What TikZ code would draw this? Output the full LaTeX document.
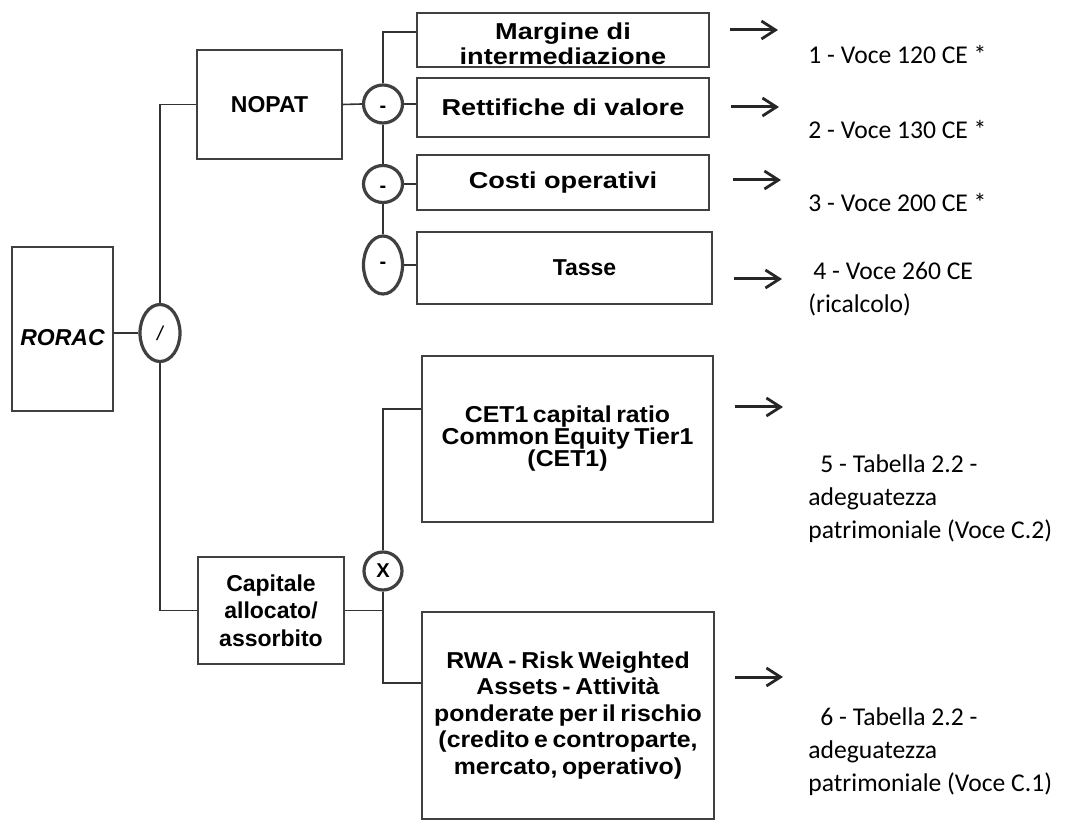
\documentclass[tikz,border=0pt]{standalone}
\usepackage{fontspec}
\setmainfont{Liberation Sans}
\newfontfamily\calib{Carlito}
\newfontfamily\widefont[FakeStretch=1.18]{Liberation Sans}
\newfontfamily\medfont[FakeStretch=1.08]{Liberation Sans}
\newcommand\tightwords{\spaceskip=0.2em plus 0.05em\relax}
\usetikzlibrary{shapes.geometric,arrows.meta}

\begin{document}
\begin{tikzpicture}[x=0.5pt,y=-0.5pt,
  box/.style={draw=black!75, line width=0.7pt, inner sep=1pt, align=center, font=\fontsize{11.5}{13.75}\selectfont\bfseries},
  wbox/.style={box, font=\fontsize{11.5}{12.5}\selectfont\widefont\bfseries},
  mbox/.style={box, font=\fontsize{11.5}{#1}\selectfont\medfont\bfseries\tightwords},
  oper/.style={ellipse, draw=black!75, line width=1.6pt, inner sep=0pt, font=\bfseries},
  wire/.style={draw=black!80, line width=0.8pt},
  ptr/.style={draw=black!85, line width=1.5pt, -{Straight Barb[length=7pt,width=9pt,line width=1.4pt]}},
  ref/.style={anchor=west, inner sep=0pt, align=left, font=\fontsize{12.8}{16.5}\selectfont\calib}]
\useasboundingbox (0,0) rectangle (1086,822);

\node[box, minimum width=50.5pt, minimum height=82pt, text height=17pt, text depth=0pt, font=\fontsize{11.5}{13}\selectfont\bfseries\itshape] (rorac) at (62.5,329) {RORAC};
\node[oper, minimum width=20pt, minimum height=28.5pt, font=\itshape] (div) at (160,333) {/};
\node[box, minimum width=72.5pt, minimum height=54.5pt] (nopat) at (269.5,104.5) {NOPAT};
\node[box, minimum width=73pt, minimum height=53.5pt] (cap) at (271,610.5) {Capitale\\allocato/\\assorbito};

% componenti del NOPAT
\node[oper, minimum width=19.5pt, minimum height=19pt, text height=8.6pt, text depth=0pt] (m1) at (383,104) {-};
\node[oper, minimum width=19.5pt, minimum height=18.5pt, text height=8.6pt, text depth=0pt] (m2) at (383,184) {-};
\node[oper, minimum width=19.5pt, minimum height=29pt] (m3) at (383,265) {-};
\node[box, minimum width=146pt, minimum height=27pt] (marg) at (563,40) {};
\node[wbox, draw=none, inner sep=0pt] (margtxt) at ([yshift=-2pt]marg.center) {Margine di\\intermediazione};
\node[wbox, minimum width=146pt, minimum height=29.5pt] (rett) at (563,107.5) {Rettifiche di valore};
\node[wbox, minimum width=146pt, minimum height=27.5pt] (costi) at (563,182.5) {Costi operativi};
\node[box, minimum width=147.5pt, minimum height=36pt] (tasse) at (564.5,268) {\hspace*{20pt}Tasse};

% capitale
\node[oper, minimum width=19pt, minimum height=19pt] (mul) at (383,571) {X};
\node[mbox=11, minimum width=145.5pt, minimum height=83pt] (cet) at (567.5,439) {CET1 capital ratio\\Common Equity Tier1\\(CET1)};
\node[mbox=13.25, minimum width=146pt, minimum height=103.5pt] (rwa) at (568,715.5) {RWA - Risk Weighted\\Assets - Attività\\ponderate per il rischio\\(credito e controparte,\\mercato, operativo)};

\draw[wire] (rorac.east |- div.west) -- (div.west);
\draw[wire] (div.north) |- (nopat.west);
\draw[wire] (div.south) |- (cap.west);
\draw[wire] (nopat.east) -- (m1.west);
\draw[wire] (m1.north) |- ([yshift=4pt]marg.west);
\draw[wire] (m1.east) -- (m1.east -| rett.west);
\draw[wire] (m1.south) -- (m2.north);
\draw[wire] (m2.south) -- (m3.north);
\draw[wire] (m2.east) -- (m2.east -| costi.west);
\draw[wire] (m3.east) -- (m3.east -| tasse.west);
\draw[wire] (cap.east) -- (cap.east -| mul.south);
\draw[wire] (mul.north) |- ([yshift=15pt]cet.west);
\draw[wire] (mul.south) |- ([yshift=16.25pt]rwa.west);

% rimandi alle voci di bilancio
\foreach \i/\xa/\xb/\yy in {1/730/778/30, 2/731/779/107, 3/733/781/180, 4/734/782/279, 5/735/783/407, 6/735/783/677} {
  \coordinate (s\i) at (\xa,\yy);
  \coordinate (t\i) at (\xb,\yy);
  \draw[ptr] (s\i) -- (t\i);
}
\node[ref] (r1) at (808,55) {1 - Voce 120 CE *};
\node[ref] (r2) at (808,130) {2 - Voce 130 CE *};
\node[ref] (r3) at (808,203) {3 - Voce 200 CE *};
\node[ref] (r4) at (808,289.5) {\hspace*{2.5pt}4 - Voce 260 CE\\(ricalcolo)};
\node[ref] (r5) at (808,498.5) {\hspace*{6pt}5 - Tabella 2.2 -\\adeguatezza\\patrimoniale (Voce C.2)};
\node[ref] (r6) at (808,751.5) {\hspace*{6pt}6 - Tabella 2.2 -\\adeguatezza\\patrimoniale (Voce C.1)};
\end{tikzpicture}
\end{document}
